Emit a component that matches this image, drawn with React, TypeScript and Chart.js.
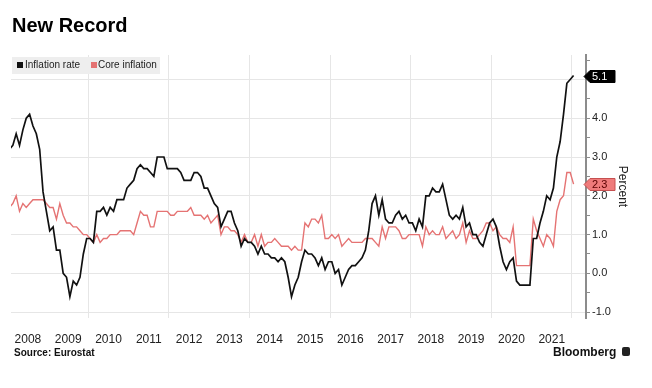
import React, { useEffect, useRef } from 'react';
import { Chart, registerables } from 'chart.js';

Chart.register(...registerables);

const FONT = '"Liberation Sans", Arial, Helvetica, sans-serif';

// Monthly series, Jan 2008 .. Jan 2022 (percent, y/y)
const START_YEAR = 2008;
const inflationRate = [
  3.2, 3.3, 3.6, 3.3, 3.7, 4.0, 4.1, 3.8, 3.6, 3.2, 2.1, 1.6,
  1.1, 1.2, 0.6, 0.6, 0.0, -0.1, -0.6, -0.2, -0.3, -0.1, 0.5, 0.9,
  0.9, 0.8, 1.6, 1.6, 1.7, 1.5, 1.7, 1.6, 1.9, 1.9, 1.9, 2.2,
  2.3, 2.4, 2.7, 2.8, 2.7, 2.7, 2.6, 2.5, 3.0, 3.0, 3.0, 2.7,
  2.7, 2.7, 2.7, 2.6, 2.4, 2.4, 2.4, 2.6, 2.6, 2.5, 2.2, 2.2,
  2.0, 1.8, 1.7, 1.2, 1.4, 1.6, 1.6, 1.3, 1.1, 0.7, 0.9, 0.8,
  0.8, 0.7, 0.5, 0.7, 0.5, 0.5, 0.4, 0.4, 0.3, 0.4, 0.3, -0.1,
  -0.6, -0.3, -0.1, 0.3, 0.6, 0.5, 0.5, 0.4, 0.2, 0.4, 0.1, 0.3,
  0.3, 0.0, 0.1, -0.3, -0.1, 0.1, 0.2, 0.2, 0.3, 0.4, 0.6, 1.1,
  1.8, 2.0, 1.5, 1.9, 1.4, 1.3, 1.3, 1.5, 1.6, 1.4, 1.5, 1.3,
  1.3, 1.1, 1.4, 1.2, 2.0, 2.0, 2.2, 2.1, 2.1, 2.3, 1.9, 1.5,
  1.4, 1.5, 1.4, 1.7, 1.2, 1.3, 1.0, 1.0, 0.8, 0.7, 1.0, 1.3,
  1.4, 1.2, 0.7, 0.3, 0.1, 0.3, 0.4, -0.2, -0.3, -0.3, -0.3, -0.3,
  0.9, 0.9, 1.3, 1.6, 2.0, 1.9, 2.2, 3.0, 3.4, 4.1, 4.9, 5.0,
  5.1,
];
const coreInflation = [
  1.7, 1.8, 2.0, 1.6, 1.8, 1.7, 1.8, 1.9, 1.9, 1.9, 1.9, 1.8,
  1.7, 1.7, 1.4, 1.8, 1.5, 1.3, 1.3, 1.2, 1.2, 1.1, 1.0, 1.0,
  0.9, 0.8, 1.0, 0.8, 0.9, 0.9, 1.0, 1.0, 1.0, 1.1, 1.1, 1.1,
  1.1, 1.0, 1.3, 1.6, 1.5, 1.5, 1.2, 1.2, 1.6, 1.6, 1.6, 1.6,
  1.5, 1.5, 1.6, 1.6, 1.6, 1.6, 1.7, 1.5, 1.5, 1.5, 1.4, 1.5,
  1.3, 1.4, 1.5, 1.0, 1.2, 1.2, 1.1, 1.1, 1.0, 0.8, 1.0, 0.8,
  0.8, 1.0, 0.7, 1.0, 0.7, 0.8, 0.8, 0.9, 0.8, 0.7, 0.7, 0.7,
  0.6, 0.7, 0.6, 0.6, 1.3, 1.2, 1.4, 1.4, 1.3, 1.5, 0.9, 0.9,
  1.0, 0.9, 1.0, 0.7, 0.8, 0.9, 0.8, 0.8, 0.8, 0.8, 0.9, 0.9,
  0.9, 0.8, 0.7, 1.2, 0.9, 1.2, 1.2, 1.2, 1.1, 0.9, 0.9, 1.0,
  1.0, 1.0, 1.0, 0.7, 1.2, 1.0, 1.1, 1.0, 1.0, 1.2, 0.9, 1.0,
  1.1, 0.9, 1.0, 1.3, 0.8, 1.1, 0.9, 0.9, 1.0, 1.1, 1.3, 1.3,
  1.1, 1.2, 1.0, 0.9, 0.9, 0.8, 1.2, 0.2, 0.2, 0.2, 0.2, 0.2,
  1.4, 1.1, 0.9, 0.7, 1.0, 0.9, 0.7, 1.6, 1.9, 2.0, 2.6, 2.6,
  2.3,
];
const seriesNames = ['Inflation rate', 'Core inflation'];
const seriesColors = ['#111111', '#e57373'];
const yearLabels = ['2008', '2009', '2010', '2011', '2012', '2013', '2014', '2015', '2016', '2017', '2018', '2019', '2020', '2021'];
const yTickValues = [-1, -0.5, 0, 0.5, 1, 1.5, 2, 2.5, 3, 3.5, 4, 4.5, 5, 5.5];
const gridYears = [2010, 2012, 2014, 2016, 2018, 2020, 2022];

const X_MIN = 2008.08;
const X_MAX = 2022.35;
const Y_MIN = -1.15;
const Y_MAX = 5.63;

const toPoints = (arr: number[]) => arr.map((v, i) => ({ x: START_YEAR + (i + 0.5) / 12, y: v }));

const badgeStyles = [
  { fill: '#000000', stroke: '#000000', text: '#ffffff' },
  { fill: '#ef7b7b', stroke: '#c65050', text: '#5a0000' },
];

const badgePlugin = {
  id: 'lastValueBadges',
  afterDraw(chart: any) {
    const { ctx } = chart;
    const ys = chart.scales.y;
    const x0 = chart.chartArea.right;
    chart.data.datasets.forEach((ds: any, i: number) => {
      const last = ds.data[ds.data.length - 1].y;
      const y = Math.round(ys.getPixelForValue(last)) + 0.5;
      const s = badgeStyles[i];
      ctx.save();
      ctx.beginPath();
      ctx.moveTo(x0 - 2, y);
      ctx.lineTo(x0 + 4, y - 6);
      ctx.lineTo(x0 + 29, y - 6);
      ctx.lineTo(x0 + 29, y + 6);
      ctx.lineTo(x0 + 4, y + 6);
      ctx.closePath();
      ctx.fillStyle = s.fill;
      ctx.fill();
      ctx.strokeStyle = s.stroke;
      ctx.lineWidth = 1;
      ctx.stroke();
      ctx.fillStyle = s.text;
      ctx.font = '11px ' + FONT;
      ctx.textBaseline = 'middle';
      ctx.textAlign = 'left';
      ctx.fillText(last.toFixed(1), x0 + 6, y + 0.5);
      ctx.restore();
    });
  },
};

export default function App() {
  const ref = useRef<HTMLCanvasElement>(null);

  useEffect(() => {
    document.body.style.margin = '0';
    Chart.defaults.font.family = FONT;
    const chart = new Chart(ref.current as HTMLCanvasElement, {
      type: 'line',
      data: {
        datasets: [
          {
            label: seriesNames[0],
            data: toPoints(inflationRate),
            borderColor: seriesColors[0],
            borderWidth: 1.7,
            pointRadius: 0,
            tension: 0,
            order: 0,
          },
          {
            label: seriesNames[1],
            data: toPoints(coreInflation),
            borderColor: seriesColors[1],
            borderWidth: 1.4,
            pointRadius: 0,
            tension: 0,
            order: 1,
          },
        ],
      },
      options: {
        animation: false,
        responsive: false,
        maintainAspectRatio: false,
        layout: { padding: { left: 11, top: 55, right: 6, bottom: 45 } },
        plugins: { legend: { display: false }, tooltip: { enabled: false } },
        scales: {
          x: {
            type: 'linear',
            min: X_MIN,
            max: X_MAX,
            afterBuildTicks: (s: any) => {
              const t: any[] = [];
              yearLabels.forEach((yl) => t.push({ value: Number(yl) + 0.5 }));
              gridYears.forEach((g) => t.push({ value: g }));
              t.sort((a, b) => a.value - b.value);
              s.ticks = t;
            },
            afterFit: (s: any) => {
              s.height = 25;
            },
            grid: {
              drawTicks: false,
              lineWidth: 1,
              color: (c: any) => (c.tick && gridYears.includes(c.tick.value) ? '#e6e6e6' : 'rgba(0,0,0,0)'),
            },
            border: { display: false },
            ticks: {
              autoSkip: false,
              maxRotation: 0,
              minRotation: 0,
              padding: 14,
              color: '#222222',
              font: { size: 12, family: FONT },
              callback: (v: any) => {
                const n = Number(v);
                return gridYears.includes(n) ? '' : String(Math.floor(n));
              },
            },
          },
          y: {
            position: 'right',
            min: Y_MIN,
            max: Y_MAX,
            afterBuildTicks: (s: any) => {
              s.ticks = yTickValues.map((v) => ({ value: v }));
            },
            afterFit: (s: any) => {
              s.width = 60;
            },
            grid: {
              drawTicks: true,
              tickLength: 4,
              tickColor: '#8c8c8c',
              lineWidth: 1,
              color: (c: any) => (c.tick && Number.isInteger(c.tick.value) ? '#e6e6e6' : 'rgba(0,0,0,0)'),
            },
            border: { display: true, color: '#8c8c8c', width: 2 },
            ticks: {
              padding: 2,
              color: '#222222',
              font: { size: 11, family: FONT },
              callback: (v: any) => (Number.isInteger(Number(v)) ? Number(v).toFixed(1) : ''),
            },
            title: {
              display: true,
              text: 'Percent',
              color: '#222222',
              font: { size: 12, family: FONT },
              padding: { top: 16, bottom: 0 },
            },
          },
        },
      },
      plugins: [badgePlugin],
    } as any);
    return () => chart.destroy();
  }, []);

  return (
    <div
      style={{
        position: 'fixed',
        left: 0,
        top: 0,
        width: 652,
        height: 388,
        background: '#ffffff',
        overflow: 'hidden',
        fontFamily: FONT,
      }}
    >
      <canvas
        ref={ref}
        width={652}
        height={388}
        style={{ position: 'absolute', left: 0, top: 0, width: 652, height: 388 }}
      />
      <div
        style={{
          position: 'absolute',
          left: 12,
          top: 15,
          fontSize: 20,
          lineHeight: '20px',
          fontWeight: 'bold',
          color: '#000',
          whiteSpace: 'nowrap',
        }}
      >
        New Record
      </div>
      <div
        style={{
          position: 'absolute',
          left: 12,
          top: 57,
          width: 148,
          height: 17,
          background: '#eeeeee',
        }}
      >
        <div style={{ position: 'absolute', left: 5, top: 5, width: 6, height: 6, background: seriesColors[0] }} />
        <span
          style={{
            position: 'absolute',
            left: 13,
            top: 0,
            fontSize: 10,
            lineHeight: '16px',
            color: '#222',
            whiteSpace: 'nowrap',
          }}
        >
          {seriesNames[0]}
        </span>
        <div style={{ position: 'absolute', left: 79, top: 5, width: 6, height: 6, background: seriesColors[1] }} />
        <span
          style={{
            position: 'absolute',
            left: 86,
            top: 0,
            fontSize: 10,
            lineHeight: '16px',
            color: '#222',
            whiteSpace: 'nowrap',
          }}
        >
          {seriesNames[1]}
        </span>
      </div>
      <div
        style={{
          position: 'absolute',
          left: 14,
          top: 347,
          fontSize: 10,
          lineHeight: '12px',
          fontWeight: 'bold',
          color: '#111',
          whiteSpace: 'nowrap',
        }}
      >
        Source: Eurostat
      </div>
      <div
        style={{
          position: 'absolute',
          left: 553,
          top: 345,
          fontSize: 12,
          lineHeight: '14px',
          fontWeight: 'bold',
          color: '#111',
          whiteSpace: 'nowrap',
        }}
      >
        Bloomberg
      </div>
      <div
        style={{
          position: 'absolute',
          left: 622,
          top: 347,
          width: 8,
          height: 9,
          borderRadius: 2,
          background: '#222',
        }}
      />
    </div>
  );
}
